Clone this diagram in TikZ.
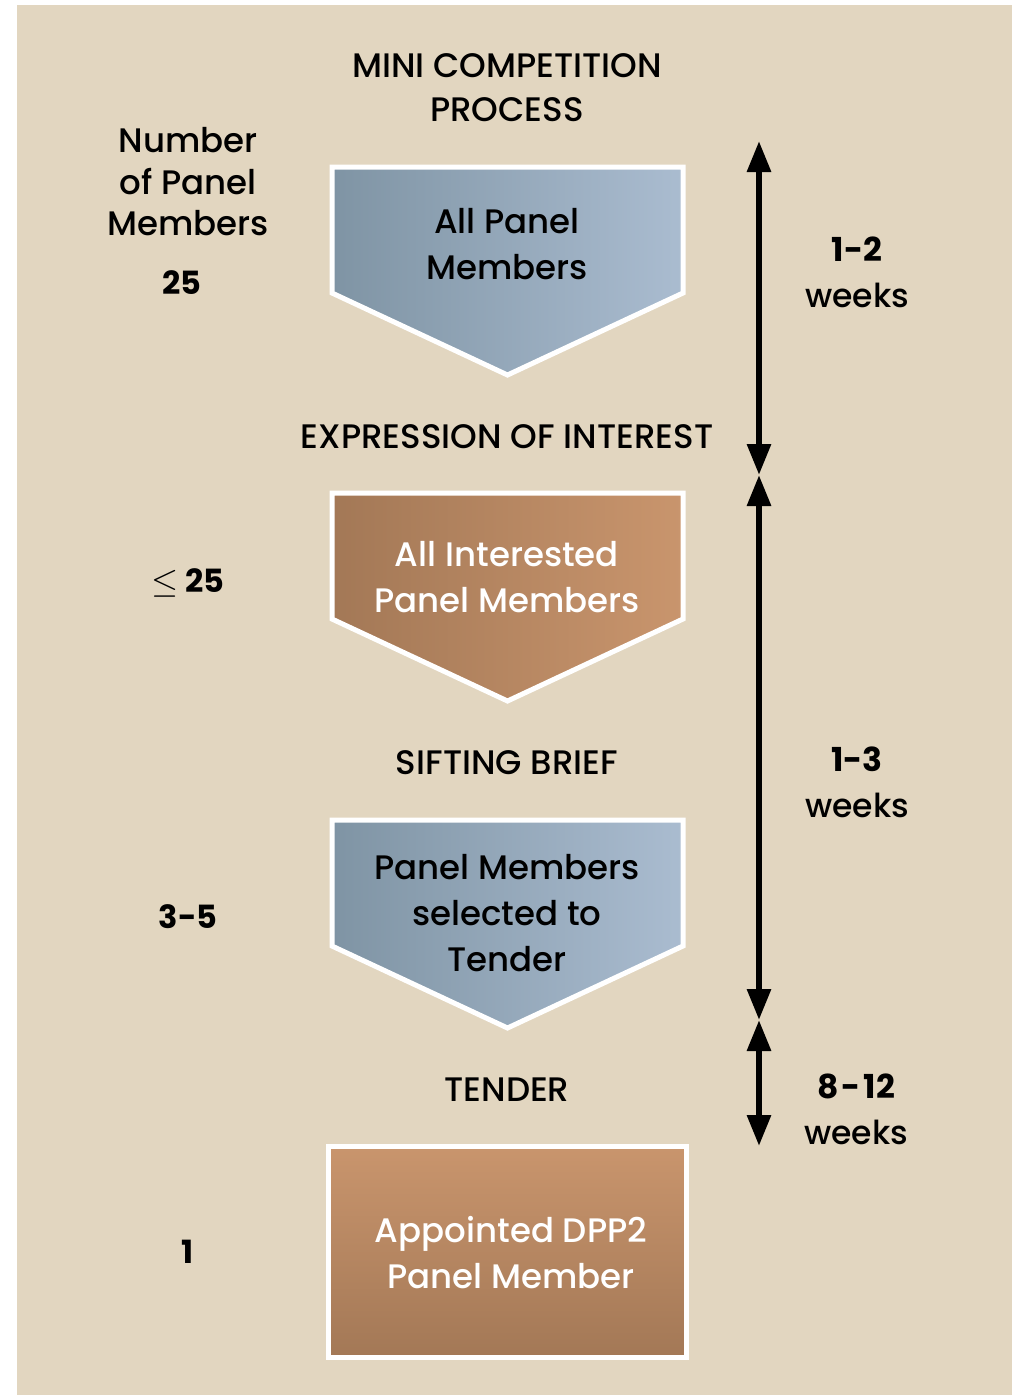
\documentclass[tikz,border=0pt]{standalone}
\usepackage{fontspec}
\setmainfont{Poppins}[UprightFont={* Medium},BoldFont={* Bold}]
\usetikzlibrary{arrows.meta}
\definecolor{sand}{RGB}{226,214,192}
\definecolor{slatedark}{RGB}{127,148,164}
\definecolor{slatelight}{RGB}{170,188,208}
\definecolor{claydark}{RGB}{163,120,86}
\definecolor{claylight}{RGB}{201,149,109}
\tikzset{
  headtext/.style={align=center,font=\fontsize{34}{44}\selectfont},
  steptext/.style={align=center,font=\fontsize{34}{46}\selectfont},
  sidetext/.style={align=center,font=\fontsize{34}{41.5}\selectfont},
  counttext/.style={font=\fontsize{32}{46}\selectfont\bfseries},
  weektext/.style={align=center,font=\fontsize{33}{46}\selectfont},
  timearrow/.style={{Triangle[length=31pt,width=23pt]}-{Triangle[length=31pt,width=23pt]},line width=6pt},
}
\begin{document}
\begin{tikzpicture}[x=1pt,y=-1pt,line join=round]
		\useasboundingbox (0,0) rectangle (1016,1395);
		\fill[sand] (17,5) rectangle (1012,1395);
		% arrow shaped steps
		\foreach \t/\cl/\cr in {167/slatedark/slatelight,493/claydark/claylight,820/slatedark/slatelight}
		\path[left color=\cl,right color=\cr,draw=white,line width=5pt,line join=miter]
		(332,\t) -- (683,\t) -- (683,\t+126) -- (507.5,\t+208) -- (332,\t+126) -- cycle;
		\path[top color=claylight,bottom color=claydark,draw=white,line width=5pt,line join=miter]
		(328.5,1146.5) rectangle (686.5,1357.5);
		% texts
		\node[headtext] (title) at (507,88) {MINI COMPETITION\\PROCESS};
		\node[steptext] (all) at (507,244) {All Panel\\Members};
		\node[steptext] (eoi) at (507,437) {EXPRESSION OF INTEREST};
		\node[steptext,white] (interested) at (507,577) {All Interested\\Panel Members};
		\node[steptext] (sift) at (507,763) {SIFTING BRIEF};
		\node[steptext] (selected) at (507,913) {Panel Members\\selected to\\Tender};
		\node[steptext] (tender) at (507,1090) {TENDER};
		\node[steptext,white] (appointed) at (511,1253) {Appointed DPP2\\Panel Member};
		% number of panel members
		\node[sidetext] (number) at (188,182) {Number\\of Panel\\Members};
		\node[counttext] (n1) at (182,283) {25};
		\node[counttext] (n2) at (188,583) {\scalebox{1.4}{$\leq$} 25};
		\node[counttext] (n3) at (188,917) {3-5};
		\node[counttext] (n4) at (188,1252) {1};
		% time line
		\coordinate (w0) at (759,141);
		\coordinate (w1) at (759,475);
		\coordinate (w2) at (759,1020);
		\coordinate (w3) at (759,1146);
		\draw[timearrow] (w0) -- (w1);
		\draw[timearrow] (w1) -- (w2);
		\draw[timearrow] (w2) -- (w3);
		\node[weektext] (d1) at (857,272) {\textbf{1-2}\\weeks};
		\node[weektext] (d2) at (857,782) {\textbf{1-3}\\weeks};
		\node[weektext] (d3) at (856,1109) {\textbf{8\kern3pt-\kern3pt12}\\weeks};
\end{tikzpicture}
\end{document}
